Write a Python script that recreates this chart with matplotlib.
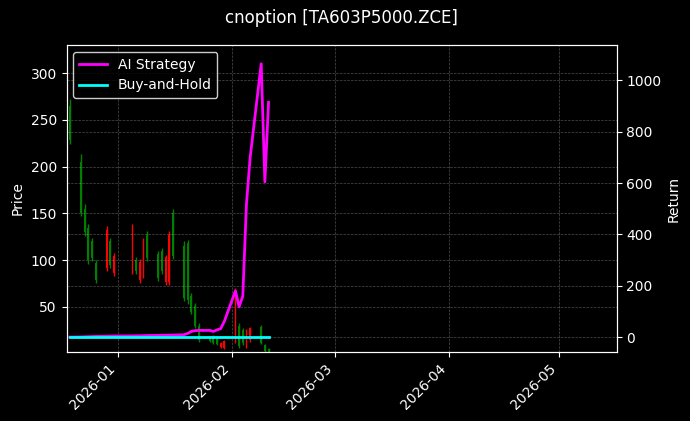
import matplotlib
matplotlib.use("Agg")
import matplotlib.pyplot as plt
import matplotlib.dates as mdates
import pandas as pd

# daily bars
dates = ["2025-12-19", "2025-12-22", "2025-12-23", "2025-12-24", "2025-12-25",
         "2025-12-26", "2025-12-29", "2025-12-30", "2025-12-31", "2026-01-05",
         "2026-01-06", "2026-01-07", "2026-01-08", "2026-01-09", "2026-01-12",
         "2026-01-13", "2026-01-14", "2026-01-15", "2026-01-16", "2026-01-19",
         "2026-01-20", "2026-01-21", "2026-01-22", "2026-01-23", "2026-01-26",
         "2026-01-27", "2026-01-28", "2026-01-29", "2026-01-30", "2026-02-02",
         "2026-02-03", "2026-02-04", "2026-02-05", "2026-02-06", "2026-02-09",
         "2026-02-10", "2026-02-11"]
opens = [228, 150, 130, 100, 102, 79, 132, 95, 104, 134, 88, 98, 120, 102, 81,
         88, 103, 127, 104, 60, 57, 45, 30, 15, 14, 11, 10.5, 12, 14, 65, 8, 11,
         24, 27, 12, 3, 2]
highs = [272, 213, 160, 139, 124, 100, 137, 124, 108, 139, 103, 101, 124, 131,
         110, 113, 106, 131, 155, 120, 122, 65, 54, 33, 18.5, 20, 17, 13, 15, 70,
         33, 27, 26, 29, 31, 10, 6]
lows = [224, 147, 126, 96, 99, 76, 88, 92, 83, 85, 85, 76, 81, 99, 78, 85, 74,
        74, 101, 56, 53, 42, 27, 13, 13, 10, 9.5, 6, 5, 11, 6, 9.5, 6, 13, 10, 2, 1]
closes = [265, 205, 155, 134, 120, 97, 92, 120, 86, 88, 100, 79, 84, 127, 107,
          110, 77, 77, 150, 115, 118, 62, 51, 30, 18, 19, 16, 7, 6, 13, 30, 25,
          8, 15, 29, 9, 5]

# cumulative returns (%)
ai_return = [0, 0.5, 1, 1.5, 2, 2.5, 3, 3.5, 4, 4.5, 5, 5, 5.5, 6, 6.5, 7, 7,
             7.5, 8, 9, 14, 22, 25, 26, 26, 22, 28, 33, 62, 180, 118, 160, 520,
             700, 1065, 605, 915]
bh_return = [0, 0, 0, 0, 0, 0, 0, 0, 0, 0, 0, 0, 0, 0, 0, 0, 0, 0, 0, 0, 0, 0,
             0, 0, 0, 0, 0, 0, 0, 0, 0, 0, 0, 0, 0, 0, 0]

x = pd.to_datetime(dates)

plt.style.use("dark_background")
fig, ax = plt.subplots(figsize=(6.9, 4.21), dpi=100)
fig.subplots_adjust(left=0.0964, right=0.8935, bottom=0.164, top=0.893)

up_color = "green"
down_color = "red"
for d, o, h, l, c in zip(x, opens, highs, lows, closes):
    col = up_color if c >= o else down_color
    ax.vlines(d, l, h, color=col, linewidth=1.0)
    ax.bar(d, abs(c - o), bottom=min(o, c), width=0.5, color=col, linewidth=0)

ax.set_ylabel("Price")
ax.set_ylim(1.9, 330)
ax.grid(True, linestyle="--", linewidth=0.5, alpha=0.3)

ax2 = ax.twinx()
ax2.plot(x, ai_return, color="magenta", linewidth=2, label="AI Strategy")
ax2.plot(x, bh_return, color="cyan", linewidth=2, label="Buy-and-Hold")
ax2.set_ylabel("Return")
ax2.set_ylim(-58, 1138)
ax2.grid(True, linestyle="--", linewidth=0.5, alpha=0.3)
ax2.legend(loc="upper left", facecolor="black", edgecolor="white")

ax.set_xlim(pd.Timestamp("2025-12-18 02:00"), pd.Timestamp("2026-05-16 14:00"))
ax.xaxis.set_major_locator(mdates.MonthLocator())
ax.xaxis.set_major_formatter(mdates.DateFormatter("%Y-%m"))
plt.setp(ax.get_xticklabels(), rotation=45, ha="right")

fig.text(0.495, 0.957, "cnoption [TA603P5000.ZCE]", ha="center", va="center",
         fontsize=12)

fig.savefig("out.png", dpi=100)
